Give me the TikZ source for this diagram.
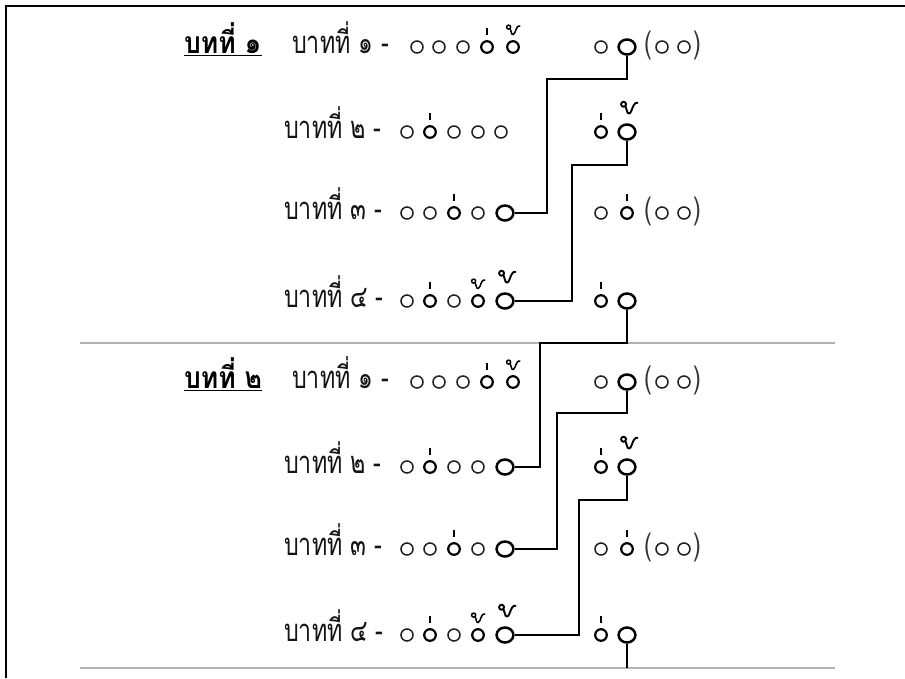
\documentclass[tikz,border=0pt]{standalone}
\usepackage{fontspec}
\newfontfamily\thaifont[Script=Thai,FakeStretch=0.75]{Loma}
\newfontfamily\thaihead[Script=Thai,FakeStretch=0.88]{Loma}
\usetikzlibrary{shapes.geometric,calc}

% tone marks drawn above a syllable circle
\newcommand\ekon[1]{\draw[ekstroke] ($(#1.center)+(0,-12)$) -- ++(0,-7);}
\newcommand\thoshape[1]{%
  \draw[line width=#1] (-3.5,-6.3) circle (1.6);
  \draw[line width=#1, line cap=round, line join=round]
    (-2.3,-5.1) -- (-0.9,-0.8) .. controls (-0.5,0.2) and (0.8,0) .. (1.6,-2.2)
    .. controls (2.6,-5) and (3.6,-7.8) .. (5.5,-7.2);}
\newcommand\thoon[1]{\begin{scope}[shift={($(#1.center)+(0,-12)$)}, scale=1.25]\thoshape{1.5pt}\end{scope}}
\newcommand\bigthoon[1]{\begin{scope}[shift={($(#1.center)+(2,-18)$)}, scale=1.55]\thoshape{1.9pt}\end{scope}}

\begin{document}
\begin{tikzpicture}[x=1pt,y=-1pt,
  lbltext/.style={font=\thaifont\fontsize{31}{34}\selectfont, text=black!92, inner sep=0, anchor=base west},
  hdrtext/.style={font=\thaihead\bfseries\fontsize{30}{34}\selectfont, text=black, inner sep=0, anchor=base west},
  partext/.style={font=\thaifont\fontsize{31}{34}\selectfont, text=black!80, inner sep=0},
  sylthin/.style={circle, draw=black!88, line width=1.5pt, minimum size=12pt, inner sep=0},
  sylbold/.style={circle, draw=black, line width=2.2pt, minimum size=11.6pt, inner sep=0},
  rhymeo/.style={ellipse, draw=black, line width=2.5pt, minimum width=16.8pt, minimum height=15pt, inner sep=0},
  ekstroke/.style={line width=1.8pt, black},
  linkline/.style={line width=1.3pt, black},
  sepline/.style={line width=1.5pt, black!30},
  frameline/.style={line width=2.5pt, black}
]
\fill[white] (0,0) rectangle (905,678);
\useasboundingbox (0,0) rectangle (905,678);

% frame
\draw[frameline] (6,678) -- (6,6) -- (905,6);

% separators
\draw[sepline] (80,343) -- (835,343);
\draw[sepline] (80,668) -- (835,668);

% headings
\node[hdrtext] (h1) at (184,53) {บทที่ ๑};
\node[hdrtext] (h2) at (184,388) {บทที่ ๒};
\foreach \h in {h1,h2}
  \draw[line width=1.8pt] ($(\h.base west)+(0,2.5)$) -- ($(\h.base east)+(0,2.5)$);

% ---------- stanza 1 ----------
\node[lbltext] (t1) at (292,53) {บาทที่ ๑ -};
\node[sylthin] (l1a) at (417,47) {};
\node[sylthin] (l1b) at (439,47) {};
\node[sylthin] (l1c) at (463,47) {};
\node[sylbold] (l1d) at (487,47) {};
\node[sylbold] (l1e) at (513,47) {};
\ekon{l1d}\thoon{l1e}
\node[sylthin] (r1a) at (601,47) {};
\node[rhymeo]  (r1b) at (627,47) {};
\node[partext] (p1l) at (648,45) {(};
\node[sylthin] (r1c) at (662,47) {};
\node[sylthin] (r1d) at (684,47) {};
\node[partext] (p1r) at (697,45) {)};

\node[lbltext] (t2) at (284,138) {บาทที่ ๒ -};
\node[sylthin] (l2a) at (407,132) {};
\node[sylbold] (l2b) at (430,132) {};
\node[sylthin] (l2c) at (454,132) {};
\node[sylthin] (l2d) at (478,132) {};
\node[sylthin] (l2e) at (501,132) {};
\ekon{l2b}
\node[sylbold] (r2a) at (601,132) {};
\node[rhymeo]  (r2b) at (627,132) {};
\ekon{r2a}\bigthoon{r2b}

\node[lbltext] (t3) at (284,219) {บาทที่ ๓ -};
\node[sylthin] (l3a) at (407,213) {};
\node[sylthin] (l3b) at (430,213) {};
\node[sylbold] (l3c) at (454,213) {};
\node[sylthin] (l3d) at (478,213) {};
\node[rhymeo]  (l3e) at (505,213) {};
\ekon{l3c}
\node[sylthin] (r3a) at (601,213) {};
\node[sylbold] (r3b) at (627,213) {};
\node[partext] (p3l) at (648,211) {(};
\node[sylthin] (r3c) at (662,213) {};
\node[sylthin] (r3d) at (684,213) {};
\node[partext] (p3r) at (697,211) {)};
\ekon{r3b}

\node[lbltext] (t4) at (284,307) {บาทที่ ๔ -};
\node[sylthin] (l4a) at (407,301) {};
\node[sylbold] (l4b) at (430,301) {};
\node[sylthin] (l4c) at (454,301) {};
\node[sylbold] (l4d) at (478,301) {};
\node[rhymeo]  (l4e) at (505,301) {};
\ekon{l4b}\thoon{l4d}\bigthoon{l4e}
\node[sylbold] (r4a) at (601,301) {};
\node[rhymeo]  (r4b) at (627,301) {};
\ekon{r4a}

% ---------- stanza 2 ----------
\node[lbltext] (t5) at (292,388) {บาทที่ ๑ -};
\node[sylthin] (l5a) at (417,382) {};
\node[sylthin] (l5b) at (439,382) {};
\node[sylthin] (l5c) at (463,382) {};
\node[sylbold] (l5d) at (487,382) {};
\node[sylbold] (l5e) at (513,382) {};
\ekon{l5d}\thoon{l5e}
\node[sylthin] (r5a) at (601,382) {};
\node[rhymeo]  (r5b) at (627,382) {};
\node[partext] (p5l) at (648,380) {(};
\node[sylthin] (r5c) at (662,382) {};
\node[sylthin] (r5d) at (684,382) {};
\node[partext] (p5r) at (697,380) {)};

\node[lbltext] (t6) at (284,473) {บาทที่ ๒ -};
\node[sylthin] (l6a) at (407,467) {};
\node[sylbold] (l6b) at (430,467) {};
\node[sylthin] (l6c) at (454,467) {};
\node[sylthin] (l6d) at (478,467) {};
\node[rhymeo]  (l6e) at (505,467) {};
\ekon{l6b}
\node[sylbold] (r6a) at (601,467) {};
\node[rhymeo]  (r6b) at (627,467) {};
\ekon{r6a}\bigthoon{r6b}

\node[lbltext] (t7) at (284,555) {บาทที่ ๓ -};
\node[sylthin] (l7a) at (407,549) {};
\node[sylthin] (l7b) at (430,549) {};
\node[sylbold] (l7c) at (454,549) {};
\node[sylthin] (l7d) at (478,549) {};
\node[rhymeo]  (l7e) at (505,549) {};
\ekon{l7c}
\node[sylthin] (r7a) at (601,549) {};
\node[sylbold] (r7b) at (627,549) {};
\node[partext] (p7l) at (648,547) {(};
\node[sylthin] (r7c) at (662,549) {};
\node[sylthin] (r7d) at (684,549) {};
\node[partext] (p7r) at (697,547) {)};
\ekon{r7b}

\node[lbltext] (t8) at (284,641) {บาทที่ ๔ -};
\node[sylthin] (l8a) at (407,635) {};
\node[sylbold] (l8b) at (430,635) {};
\node[sylthin] (l8c) at (454,635) {};
\node[sylbold] (l8d) at (478,635) {};
\node[rhymeo]  (l8e) at (505,635) {};
\ekon{l8b}\thoon{l8d}\bigthoon{l8e}
\node[sylbold] (r8a) at (601,635) {};
\node[rhymeo]  (r8b) at (627,635) {};
\ekon{r8a}

% rhyme links
\coordinate (tail) at (627,668);
\draw[linkline] (r1b.south) |- (547,79) |- (l3e.east);
\draw[linkline] (r2b.south) |- (572,165) |- (l4e.east);
\draw[linkline] (r4b.south) |- (540,343) |- (l6e.east);
\draw[linkline] (r5b.south) |- (557,413) |- (l7e.east);
\draw[linkline] (r6b.south) |- (579,500) |- (l8e.east);
\draw[linkline] (r8b.south) -- (tail);
\end{tikzpicture}
\end{document}
